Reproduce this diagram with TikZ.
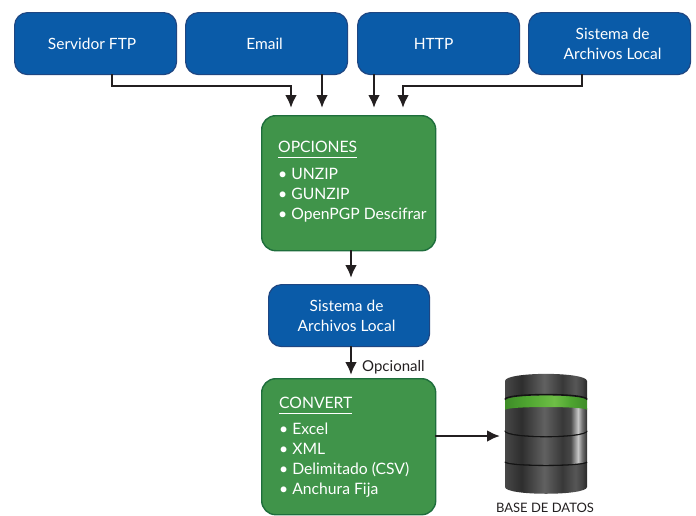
\documentclass[tikz,border=0pt]{standalone}
\usepackage{fontspec}
\setmainfont{Lato}
\usetikzlibrary{arrows.meta}
\definecolor{bluefill}{RGB}{10,91,168}
\definecolor{blueedge}{RGB}{30,70,130}
\definecolor{greenfill}{RGB}{64,148,74}
\definecolor{greenedge}{RGB}{30,110,60}
\definecolor{ink}{RGB}{35,31,32}
\definecolor{dbga}{RGB}{62,140,40}
\definecolor{dbgb}{RGB}{78,165,48}
\definecolor{dbgc}{RGB}{110,190,70}
\pgfdeclarehorizontalshading{dbshade}{100bp}{
 color(0bp)=(black!72); color(25bp)=(black!72); color(35bp)=(black!82); color(49bp)=(black!62); color(60bp)=(black!78); color(68bp)=(black!66); color(72bp)=(black!74); color(75bp)=(black!84); color(100bp)=(black!84)}
\pgfdeclarehorizontalshading{dbshine}{100bp}{
 color(0bp)=(black!72); color(25bp)=(black!72); color(35bp)=(black!82); color(49bp)=(black!62); color(60bp)=(black!78); color(65bp)=(black!72); color(69.5bp)=(black!22); color(72bp)=(black!55); color(75bp)=(black!82); color(100bp)=(black!82)}
\pgfdeclarehorizontalshading{dbgreen}{100bp}{
 color(0bp)=(dbga); color(25bp)=(dbga); color(38bp)=(dbgb); color(55bp)=(dbgc); color(65bp)=(dbgb); color(75bp)=(dbga); color(100bp)=(dbga)}
\tikzset{
 x=1pt,y=-1pt,
 bluebox/.style={draw=blueedge,fill=bluefill,line width=1.2pt,rounded corners=13pt,text=white,align=center,font=\fontsize{15.5}{20}\selectfont,anchor=north west,inner sep=0pt},
 greenbox/.style={draw=greenedge,fill=greenfill,line width=1.4pt,rounded corners=14pt,anchor=north west,inner sep=0pt},
 boxtext/.style={text=white,align=left,anchor=north west,inner sep=0pt,font=\fontsize{15.7}{20}\selectfont},
 conn/.style={draw=ink,line width=2.6pt,-{Latex[length=13pt,width=12pt]}},
 lbl/.style={text=ink,anchor=west,inner sep=0pt}
}
\newcommand{\bul}{\textbullet\ }
\newcommand{\uline}[1]{\underline{#1\rule[-3.5pt]{0pt}{3.5pt}}}
% \dblayer{shading}{top side y}{top bulge}{bottom side y}{bottom bulge}
\newcommand{\dblayer}[5]{%
 \path[shade,shading=#1] (505,#2) .. controls (505,#2-#3) and (587,#2-#3) .. (587,#2) -- (587,#4) .. controls (587,#4+#5) and (505,#4+#5) .. (505,#4) -- cycle;}
\newcommand{\dbgap}[2]{%
 \draw[black!92,line width=1.6pt] (505,#1) .. controls (505,#1+#2) and (587,#1+#2) .. (587,#1);}
\begin{document}
\begin{tikzpicture}
\useasboundingbox (0,0) rectangle (696,515);
\node[bluebox,minimum width=162pt,minimum height=62pt] (ftp) at (14,12) {\hspace*{-7pt}Servidor FTP};
\node[bluebox,minimum width=162pt,minimum height=62pt] (mail) at (185,12) {\hspace*{-4pt}Email};
\node[bluebox,minimum width=162pt,minimum height=62pt] (http) at (357,12) {\hspace*{-10pt}HTTP};
\node[bluebox,minimum width=162pt,minimum height=62pt] (loc) at (528,12) {\hspace*{6pt}Sistema de\\\hspace*{6pt}Archivos Local};
\node[greenbox,minimum width=174pt,minimum height=135pt] (opc) at (261,115) {};
\node[bluebox,minimum width=161pt,minimum height=62pt] (loc2) at (268,284) {\hspace*{-5pt}Sistema de\\\hspace*{-5pt}Archivos Local};
\node[greenbox,minimum width=174pt,minimum height=136pt] (conv) at (261,378) {};
\node[boxtext] (opct) at (278,141) {\uline{OPCIONES}\\[7pt]\bul UNZIP\\\bul GUNZIP\\\bul OpenPGP Descifrar};
\node[boxtext] (convt) at (279,397) {\uline{CONVERT}\\[6pt]\bul Excel\\\bul XML\\\bul Delimitado (CSV)\\\bul Anchura Fija};
\coordinate (a1) at (291,108);
\coordinate (a2) at (322,108);
\coordinate (a3) at (374,108);
\coordinate (a4) at (403,108);
\coordinate (s1) at (112,74);
\coordinate (s2) at (322,74);
\coordinate (s3) at (374,74);
\coordinate (s4) at (582,74);
\draw[conn] (s1) -- (112,86) -| (a1);
\draw[conn] (s2) -- (a2);
\draw[conn] (s3) -- (a3);
\draw[conn] (s4) -- (582,86) -| (a4);
\coordinate (o1) at (351,250);
\coordinate (o2) at (351,278);
\draw[conn] (o1) -- (o2);
\coordinate (l1) at (351,346);
\coordinate (l2) at (351,375);
\draw[conn] (l1) -- (l2);
\node[lbl,font=\fontsize{15}{17}\selectfont] (opt) at (362,367) {Opcionall};
\coordinate (d1) at (435,436);
\coordinate (d2) at (500,436);
\draw[conn] (d1) -- (d2);
% database
\dblayer{dbshade}{462}{0}{487}{9}
\dbgap{461.5}{5}
\dblayer{dbshine}{431}{0}{461}{5}
\dbgap{430.5}{8}
\dblayer{dbshine}{408}{3}{430}{8}
\dblayer{dbgreen}{400}{6.5}{410}{-4}
\dblayer{dbshade}{381}{9.5}{400}{-6.5}
\dbgap{399.5}{-6.5}
\node[text=ink,inner sep=0pt,font=\fontsize{13}{15}\selectfont] (dbl) at (545,508) {BASE DE DATOS};
\end{tikzpicture}
\end{document}
